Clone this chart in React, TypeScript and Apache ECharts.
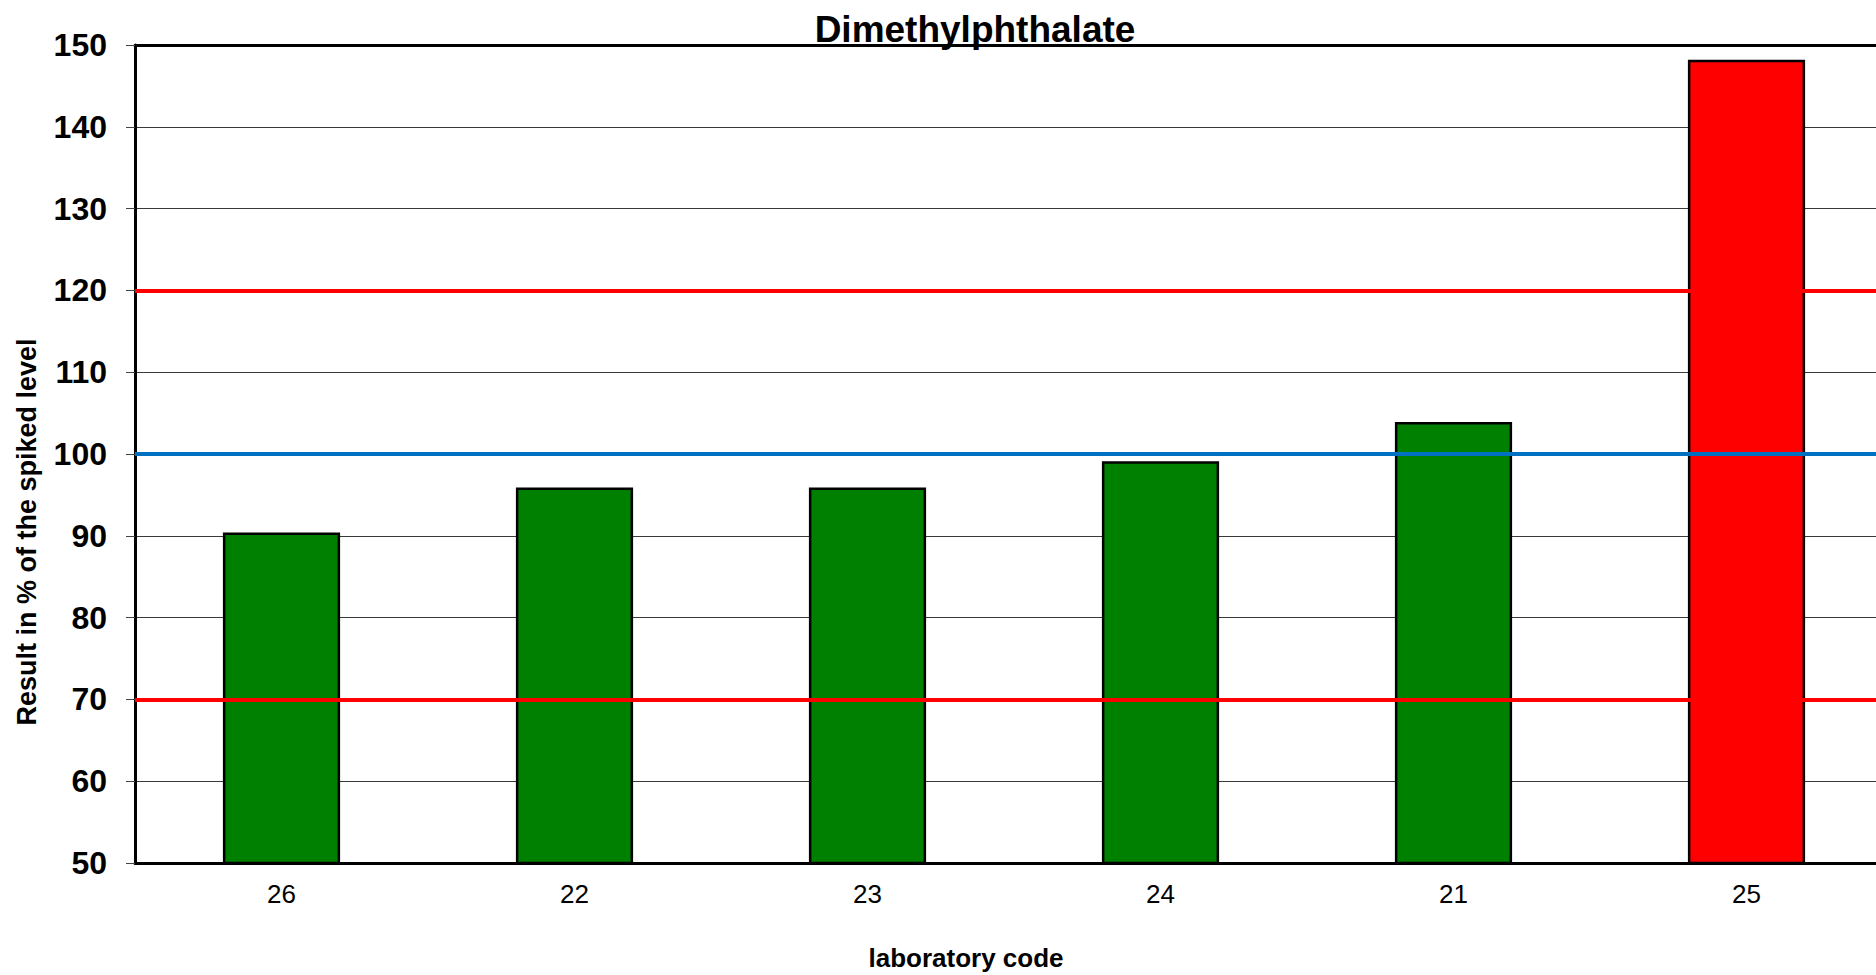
import React, { useEffect, useRef } from "react";
import * as echarts from "echarts";

const categories = ["26", "22", "23", "24", "21", "25"];
const values = [90.4, 95.9, 95.9, 99.1, 103.9, 148.2];
const lowerLimit = 70;
const upperLimit = 120;
const target = 100;
const yMin = 50;
const yMax = 150;
const yInterval = 10;

const FONT = '"Liberation Sans", Arial, Helvetica, sans-serif';

export default function App() {
  const ref = useRef<HTMLDivElement>(null);

  useEffect(() => {
    if (!ref.current) return;
    const chart = echarts.init(ref.current, undefined, { renderer: "svg" });
    const barData = values.map((v) => ({
      value: v,
      itemStyle: {
        color: v > upperLimit || v < lowerLimit ? "#FF0000" : "#008000",
      },
    }));
    chart.setOption({
      animation: false,
      backgroundColor: "#ffffff",
      grid: { left: 135, top: 45, width: 1758, height: 818, containLabel: false },
      xAxis: [
        {
          type: "category",
          data: categories,
          position: "bottom",
          axisLine: { show: true, lineStyle: { color: "#000", width: 3 } },
          axisTick: { show: false },
          axisLabel: {
            color: "#000",
            fontFamily: FONT,
            fontSize: 26,
            margin: 18,
          },
          splitLine: { show: false },
        },
        {
          type: "category",
          data: categories,
          position: "top",
          axisLine: { show: true, lineStyle: { color: "#000", width: 3 } },
          axisTick: { show: false },
          axisLabel: { show: false },
          splitLine: { show: false },
        },
      ],
      yAxis: {
        type: "value",
        min: yMin,
        max: yMax,
        interval: yInterval,
        axisLine: { show: true, onZero: false, lineStyle: { color: "#000", width: 3 } },
        axisTick: { show: true, length: 9, lineStyle: { color: "#444", width: 1 } },
        axisLabel: {
          color: "#000",
          fontFamily: FONT,
          fontSize: 32,
          fontWeight: "bold",
          margin: 28,
        },
        splitLine: { show: true, lineStyle: { color: "#3a3a3a", width: 1 } },
      },
      series: [
        {
          type: "bar",
          data: barData,
          barWidth: "40%",
          itemStyle: { borderColor: "#000", borderWidth: 2.5 },
          markLine: {
            silent: true,
            symbol: "none",
            label: { show: false },
            data: [
              { yAxis: upperLimit, lineStyle: { color: "#FF0000", width: 4, type: "solid" } },
              { yAxis: lowerLimit, lineStyle: { color: "#FF0000", width: 4, type: "solid" } },
              { yAxis: target, lineStyle: { color: "#0070C0", width: 4, type: "solid" } },
            ],
          },
        },
      ],
      graphic: [
        {
          type: "text",
          x: 975,
          y: 29,
          style: {
            text: "Dimethylphthalate",
            font: `bold 37px ${FONT}`,
            fill: "#000",
            textAlign: "center",
            textVerticalAlign: "middle",
          },
          z: 100,
        },
        {
          type: "text",
          x: 966,
          y: 958,
          style: {
            text: "laboratory code",
            font: `bold 26px ${FONT}`,
            fill: "#000",
            textAlign: "center",
            textVerticalAlign: "middle",
          },
        },
        {
          type: "text",
          x: 27,
          y: 532,
          rotation: Math.PI / 2,
          style: {
            text: "Result in % of the spiked level",
            font: `bold 27px ${FONT}`,
            fill: "#000",
            textAlign: "center",
            textVerticalAlign: "middle",
          },
        },
      ],
    });
    return () => chart.dispose();
  }, []);

  return (
    <div
      style={{
        position: "fixed",
        left: 0,
        top: 0,
        width: "100vw",
        height: "100vh",
        overflow: "hidden",
        background: "#fff",
      }}
    >
      <div ref={ref} style={{ width: 1900, height: 975 }} />
    </div>
  );
}
